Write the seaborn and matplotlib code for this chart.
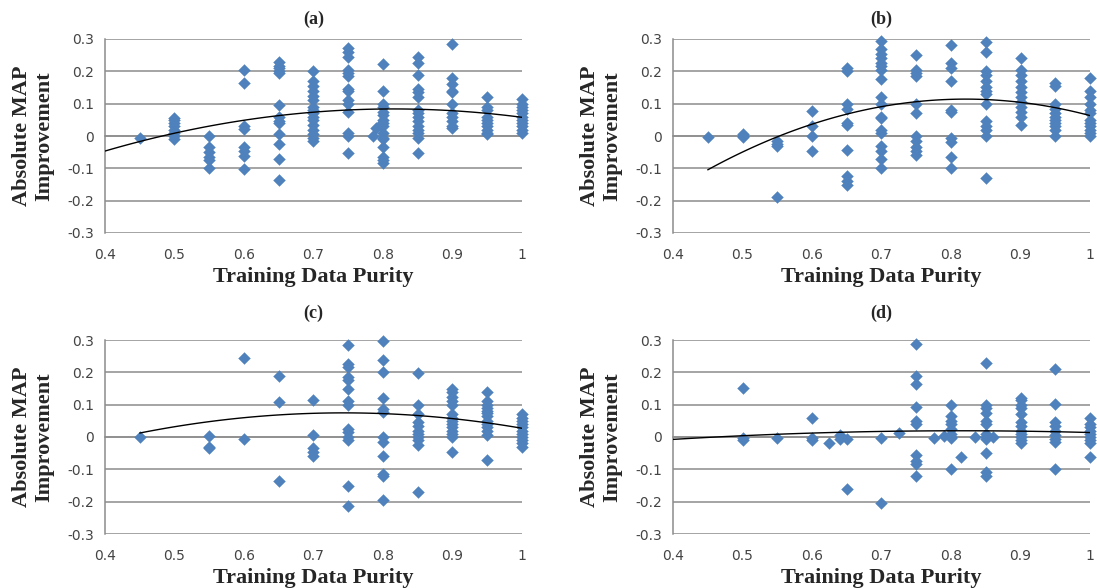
import numpy as np
import pandas as pd
import matplotlib
matplotlib.use("Agg")
import matplotlib.pyplot as plt
import seaborn as sns
from matplotlib.ticker import FuncFormatter, FixedLocator

# purity levels and the MAP improvement values at each level, per panel
purity_a = [0.45, 0.5, 0.55, 0.6, 0.65, 0.7, 0.75, 0.785, 0.79, 0.795, 0.8, 0.85, 0.9, 0.95, 1.0]
gain_a = [
    [-0.007],
    [0.057, 0.048, 0.04, 0.03, 0.02, 0.01, 0.0, -0.008],
    [0.0, -0.035, -0.05, -0.065, -0.075, -0.1],
    [0.205, 0.163, 0.03, 0.022, -0.035, -0.045, -0.062, -0.103],
    [0.228, 0.218, 0.21, 0.2, 0.195, 0.097, 0.058, 0.045, 0.04, 0.005, -0.025, -0.072, -0.137],
    [0.2, 0.17, 0.155, 0.14, 0.125, 0.11, 0.09, 0.08, 0.07, 0.06, 0.05, 0.035, 0.02, 0.005, -0.005, -0.015],
    [0.272, 0.26, 0.245, 0.205, 0.195, 0.185, 0.145, 0.14, 0.11, 0.1, 0.075, 0.01, 0.0, -0.052],
    [0.0],
    [0.025],
    [0.035],
    [0.222, 0.14, 0.1, 0.09, 0.075, 0.065, 0.05, 0.04, 0.03, 0.01, -0.005, -0.01, -0.035, -0.065, -0.075, -0.085],
    [0.245, 0.225, 0.19, 0.145, 0.135, 0.12, 0.08, 0.07, 0.06, 0.045, 0.03, 0.02, 0.01, -0.005, -0.052],
    [0.285, 0.18, 0.16, 0.14, 0.135, 0.1, 0.07, 0.06, 0.045, 0.03, 0.025],
    [0.12, 0.09, 0.08, 0.06, 0.05, 0.04, 0.03, 0.02, 0.01, 0.005],
    [0.115, 0.1, 0.09, 0.08, 0.07, 0.06, 0.05, 0.04, 0.03, 0.02, 0.01],
]

purity_b = [0.45, 0.5, 0.55, 0.6, 0.65, 0.7, 0.75, 0.8, 0.85, 0.9, 0.95, 1.0]
gain_b = [
    [-0.003],
    [0.005, 0.0, -0.003],
    [-0.015, -0.025, -0.032, -0.19],
    [0.077, 0.03, 0.0, -0.047],
    [0.21, 0.2, 0.1, 0.085, 0.04, 0.035, -0.043, -0.125, -0.14, -0.152],
    [0.295, 0.27, 0.255, 0.24, 0.225, 0.215, 0.205, 0.175, 0.12, 0.1, 0.06, 0.055, 0.02, 0.01, -0.03, -0.045, -0.07, -0.1],
    [0.25, 0.205, 0.195, 0.185, 0.1, 0.07, 0.0, -0.015, -0.035, -0.045, -0.058],
    [0.28, 0.225, 0.21, 0.17, 0.08, 0.075, -0.005, -0.02, -0.065, -0.1],
    [0.29, 0.26, 0.2, 0.19, 0.17, 0.15, 0.14, 0.13, 0.1, 0.045, 0.03, 0.02, 0.0, -0.13],
    [0.24, 0.205, 0.19, 0.17, 0.15, 0.135, 0.12, 0.105, 0.09, 0.075, 0.06, 0.035],
    [0.165, 0.155, 0.1, 0.085, 0.07, 0.06, 0.05, 0.04, 0.03, 0.02, 0.0],
    [0.18, 0.14, 0.12, 0.1, 0.08, 0.07, 0.05, 0.04, 0.03, 0.02, 0.01, 0.0],
]

purity_c = [0.45, 0.55, 0.6, 0.65, 0.7, 0.75, 0.8, 0.85, 0.9, 0.95, 1.0]
gain_c = [
    [0.0],
    [0.003, -0.03, -0.035],
    [0.245, -0.005],
    [0.188, 0.108, -0.136],
    [0.115, 0.005, -0.035, -0.045, -0.06],
    [0.285, 0.225, 0.218, 0.185, 0.175, 0.15, 0.11, 0.1, 0.025, 0.015, 0.0, -0.01, -0.15, -0.212],
    [0.297, 0.238, 0.202, 0.12, 0.088, 0.078, 0.0, -0.015, -0.06, -0.115, -0.12, -0.195],
    [0.198, 0.1, 0.07, 0.045, 0.035, 0.02, 0.01, 0.0, -0.01, -0.025, -0.17],
    [0.15, 0.14, 0.125, 0.11, 0.1, 0.07, 0.06, 0.05, 0.04, 0.03, 0.02, 0.01, 0.0, -0.045],
    [0.14, 0.11, 0.1, 0.09, 0.08, 0.075, 0.065, 0.05, 0.04, 0.03, 0.02, 0.005, -0.07],
    [0.07, 0.06, 0.05, 0.04, 0.03, 0.02, 0.01, 0.0, -0.01, -0.02, -0.03],
]

purity_d = [0.5, 0.55, 0.6, 0.625, 0.64, 0.65, 0.7, 0.725, 0.75, 0.775, 0.79, 0.8,
            0.815, 0.835, 0.85, 0.86, 0.9, 0.95, 1.0]
gain_d = [
    [0.152, -0.003, -0.008],
    [-0.003],
    [0.06, -0.003, -0.01],
    [-0.018],
    [0.005, -0.005],
    [-0.005, -0.16],
    [-0.003, -0.205],
    [0.013],
    [0.287, 0.19, 0.165, 0.093, 0.05, 0.04, -0.055, -0.075, -0.085, -0.122],
    [-0.003],
    [0.003],
    [0.098, 0.065, 0.05, 0.04, 0.025, 0.01, 0.0, -0.003, -0.1],
    [-0.062],
    [0.0],
    [0.228, 0.1, 0.09, 0.075, 0.05, 0.04, 0.01, 0.0, -0.005, -0.05, -0.108, -0.12],
    [0.0],
    [0.122, 0.115, 0.1, 0.09, 0.07, 0.045, 0.035, 0.02, 0.01, 0.0, -0.01, -0.02],
    [0.21, 0.102, 0.045, 0.035, 0.02, 0.005, -0.005, -0.015, -0.1],
    [0.06, 0.04, 0.03, 0.02, 0.01, 0.0, -0.01, -0.02, -0.062],
]

# polynomial trend lines
trend_x_a = [0.4, 0.5, 0.6, 0.7, 0.8, 0.9, 1.0]
trend_y_a = [-0.047, 0.01, 0.047, 0.075, 0.083, 0.078, 0.058]
trend_x_b = [0.45, 0.55, 0.65, 0.75, 0.85, 0.95, 1.0]
trend_y_b = [-0.105, -0.002, 0.068, 0.105, 0.113, 0.088, 0.063]
trend_x_c = [0.45, 0.6, 0.7, 0.75, 0.8, 0.9, 1.0]
trend_y_c = [0.012, 0.06, 0.073, 0.076, 0.072, 0.055, 0.028]
trend_x_d = [0.4, 0.5, 0.6, 0.7, 0.8, 0.9, 1.0]
trend_y_d = [-0.007, 0.004, 0.011, 0.017, 0.02, 0.019, 0.013]

titles = ["(a)", "(b)", "(c)", "(d)"]
x_ticks = [0.4, 0.5, 0.6, 0.7, 0.8, 0.9, 1.0]
y_ticks = [-0.3, -0.2, -0.1, 0.0, 0.1, 0.2, 0.3]

panels = [
    (purity_a, gain_a, trend_x_a, trend_y_a),
    (purity_b, gain_b, trend_x_b, trend_y_b),
    (purity_c, gain_c, trend_x_c, trend_y_c),
    (purity_d, gain_d, trend_x_d, trend_y_d),
]

sns.set_style("white")
W, H = 1097, 588
fig = plt.figure(figsize=(W / 100, H / 100), dpi=100)

# axes boxes in pixels: left, top, right, bottom
boxes = [(105, 39, 522, 233), (673, 39, 1090, 233),
         (105, 340, 522, 534), (673, 340, 1090, 534)]
title_pads = [11, 11, 16, 16]

grey = "#8c8c8c"
serif = ["Liberation Serif", "DejaVu Serif"]
fmt = FuncFormatter(lambda v, p: "{:g}".format(round(v, 2)))

for (px, gains, tx, ty), title, (l, t, r, b), tpad in zip(panels, titles, boxes, title_pads):
    ax = fig.add_axes([l / W, 1 - b / H, (r - l) / W, (b - t) / H])
    rows = [(x, g) for x, gs in zip(px, gains) for g in gs]
    df = pd.DataFrame(rows, columns=["purity", "gain"])

    coef = np.polyfit(tx, ty, 2)
    xs = np.linspace(min(tx), max(tx), 100)
    trend = pd.DataFrame({"purity": xs, "gain": np.polyval(coef, xs)})

    ax.set_xlim(0.4, 1.0)
    ax.set_ylim(-0.3, 0.3)
    ax.yaxis.set_major_locator(FixedLocator(y_ticks))
    ax.xaxis.set_major_locator(FixedLocator(x_ticks))
    ax.yaxis.set_major_formatter(fmt)
    ax.grid(axis="y", color=grey, linewidth=1.1)
    ax.set_axisbelow(True)

    sns.scatterplot(data=df, x="purity", y="gain", marker="D", s=36,
                    color="#4F81BD", edgecolor="#4F81BD", linewidth=0.3,
                    ax=ax, clip_on=False, zorder=3)
    sns.lineplot(data=trend, x="purity", y="gain", color="black",
                 linewidth=1.0, ax=ax, zorder=4)

    for side in ["top", "right"]:
        ax.spines[side].set_visible(False)
    ax.spines["left"].set_color(grey)
    ax.spines["left"].set_linewidth(1.1)
    # horizontal axis crosses at zero, labels stay at the bottom
    ax.spines["bottom"].set_position(("data", 0))
    ax.spines["bottom"].set_color(grey)
    ax.spines["bottom"].set_linewidth(1.1)
    ax.tick_params(axis="x", direction="out", length=4, color=grey,
                   labelbottom=False)
    ax.tick_params(axis="y", direction="out", length=5, color=grey,
                   labelsize=10, labelcolor="#444444", pad=3)

    sec = ax.secondary_xaxis(0.0)
    sec.xaxis.set_major_locator(FixedLocator(x_ticks))
    sec.xaxis.set_major_formatter(fmt)
    sec.spines["bottom"].set_visible(False)
    sec.tick_params(length=0, labelsize=10, labelcolor="#444444", pad=10.5)
    sec.set_xlabel("Training Data Purity", family=serif, fontweight="bold",
                   fontsize=16, labelpad=4)

    ax.set_xlabel("")
    ax.set_ylabel("Absolute MAP\nImprovement", family=serif, fontweight="bold",
                  fontsize=16, labelpad=9, linespacing=1.15)
    ax.set_title(title, family=serif, fontweight="bold", fontsize=13, pad=tpad)

fig.savefig("out.png", dpi=100)
